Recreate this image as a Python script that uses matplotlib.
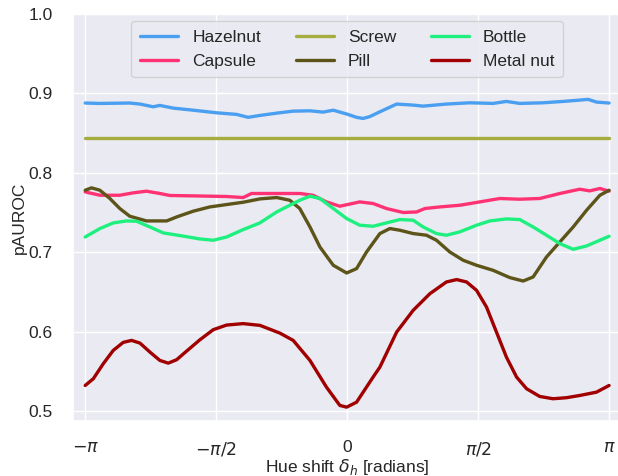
import numpy as np
import matplotlib
matplotlib.use('Agg')
import matplotlib.pyplot as plt
import seaborn as sns

# hue shift positions are stored in units of pi
hazelnut_x = [-1.0, -0.944, -0.830, -0.791, -0.741, -0.715, -0.664, -0.588, -0.498, -0.422,
              -0.378, -0.333, -0.269, -0.206, -0.142, -0.092, -0.053, 0.0, 0.036, 0.061,
              0.087, 0.125, 0.189, 0.252, 0.290, 0.379, 0.468, 0.557, 0.608, 0.659,
              0.748, 0.824, 0.888, 0.920, 0.952, 1.0]
hazelnut_y = [0.888, 0.8875, 0.888, 0.8867, 0.8833, 0.885, 0.8816, 0.879, 0.8757, 0.8737,
              0.870, 0.8724, 0.8753, 0.8778, 0.8782, 0.8766, 0.879, 0.874, 0.870, 0.8686,
              0.871, 0.877, 0.8867, 0.8854, 0.8841, 0.8867, 0.8883, 0.8875, 0.890, 0.8875,
              0.8883, 0.890, 0.8917, 0.8926, 0.8892, 0.888]

capsule_x = [-1.0, -0.944, -0.868, -0.817, -0.766, -0.715, -0.677, -0.588, -0.460, -0.397,
             -0.365, -0.269, -0.181, -0.130, -0.079, -0.028, 0.048, 0.099, 0.150, 0.214,
             0.265, 0.297, 0.354, 0.430, 0.506, 0.583, 0.659, 0.735, 0.812, 0.888,
             0.926, 0.965, 1.0]
capsule_y = [0.7762, 0.772, 0.772, 0.775, 0.7771, 0.7742, 0.7717, 0.7712, 0.7704, 0.7691,
             0.7742, 0.7742, 0.7742, 0.772, 0.7636, 0.7582, 0.7636, 0.7616, 0.7553, 0.7503,
             0.751, 0.7553, 0.7573, 0.7594, 0.7636, 0.7679, 0.767, 0.7679, 0.7742, 0.7796,
             0.7775, 0.7805, 0.7771]

screw_x = [-1.0, 1.0]
screw_y = [0.844, 0.844]

pill_x = [-1.0, -0.976, -0.944, -0.906, -0.868, -0.830, -0.766, -0.689, -0.651, -0.588,
          -0.524, -0.460, -0.397, -0.333, -0.269, -0.219, -0.181, -0.142, -0.104, -0.053,
          -0.002, 0.036, 0.074, 0.125, 0.163, 0.201, 0.252, 0.303, 0.341, 0.392,
          0.443, 0.494, 0.557, 0.621, 0.672, 0.710, 0.761, 0.812, 0.863, 0.914,
          0.965, 1.0]
pill_y = [0.7783, 0.7813, 0.7783, 0.7679, 0.7553, 0.7456, 0.7397, 0.7397, 0.7447, 0.7519,
          0.7573, 0.7603, 0.7632, 0.7674, 0.7691, 0.7657, 0.7553, 0.7321, 0.7069, 0.6839,
          0.6742, 0.6797, 0.7006, 0.7238, 0.7301, 0.728, 0.7238, 0.7217, 0.7154, 0.7006,
          0.6902, 0.6839, 0.6776, 0.6684, 0.6641, 0.6692, 0.6943, 0.7132, 0.7321, 0.7531,
          0.772, 0.7783]

bottle_x = [-1.0, -0.944, -0.893, -0.842, -0.804, -0.753, -0.702, -0.639, -0.562, -0.511,
            -0.460, -0.397, -0.333, -0.269, -0.206, -0.181, -0.142, -0.104, -0.053, -0.002,
            0.048, 0.099, 0.150, 0.201, 0.252, 0.290, 0.341, 0.379, 0.430, 0.494,
            0.545, 0.608, 0.659, 0.710, 0.761, 0.812, 0.863, 0.914, 0.965, 1.0]
bottle_y = [0.7195, 0.7301, 0.7372, 0.7397, 0.7393, 0.7321, 0.7246, 0.7213, 0.717, 0.7154,
            0.7195, 0.7288, 0.7372, 0.751, 0.7616, 0.7657, 0.7708, 0.7679, 0.7553, 0.7427,
            0.7343, 0.733, 0.7372, 0.7414, 0.7406, 0.7321, 0.7238, 0.7217, 0.7259, 0.7343,
            0.7397, 0.7422, 0.7414, 0.7321, 0.7217, 0.7112, 0.704, 0.7082, 0.7154, 0.7204]

metalnut_x = [-1.0, -0.969, -0.931, -0.893, -0.855, -0.823, -0.791, -0.753, -0.715, -0.683,
              -0.651, -0.613, -0.562, -0.511, -0.460, -0.397, -0.333, -0.257, -0.206, -0.142,
              -0.079, -0.028, -0.002, 0.036, 0.099, 0.125, 0.189, 0.252, 0.316, 0.379,
              0.418, 0.456, 0.494, 0.532, 0.570, 0.608, 0.647, 0.685, 0.735, 0.786,
              0.837, 0.888, 0.952, 1.0]
metalnut_y = [0.5327, 0.5412, 0.5601, 0.5768, 0.5869, 0.5894, 0.586, 0.5747, 0.5642, 0.5608,
              0.5651, 0.5759, 0.5902, 0.6029, 0.6087, 0.6105, 0.6083, 0.5986, 0.5894, 0.5642,
              0.5306, 0.5076, 0.5054, 0.5117, 0.5432, 0.5558, 0.5999, 0.6272, 0.6482, 0.6629,
              0.6659, 0.6629, 0.6524, 0.6314, 0.5999, 0.5684, 0.5432, 0.5286, 0.5189, 0.516,
              0.5173, 0.5201, 0.5243, 0.5327]

tick_pos = [-1.0, -0.5, 0.0, 0.5, 1.0]
tick_labels = [r'$-\pi$', r'$-\pi/2$', '0', r'$\pi/2$', r'$\pi$']

sns.set_theme(style='darkgrid')
plt.rcParams['font.family'] = ['Liberation Sans', 'DejaVu Sans']

fig = plt.figure(figsize=(6.18, 4.76), dpi=100)
ax = fig.add_axes([73.3 / 618, 55 / 476, (621 - 73.3) / 618, 407 / 476])

series = [
    ('Hazelnut', hazelnut_x, hazelnut_y, '#4a9ff0'),
    ('Capsule', capsule_x, capsule_y, '#ff3374'),
    ('Screw', screw_x, screw_y, '#a6ad3f'),
    ('Pill', pill_x, pill_y, '#5c5419'),
    ('Bottle', bottle_x, bottle_y, '#1ef07f'),
    ('Metal nut', metalnut_x, metalnut_y, '#a00000'),
]
for name, xs, ys, col in series:
    ax.plot(np.array(xs) * np.pi, ys, color=col, lw=2.4, label=name,
            solid_joinstyle='round', solid_capstyle='round')

ax.set_xticks(np.array(tick_pos) * np.pi)
ax.set_xticklabels(tick_labels)
ax.set_xlim(-np.pi - 0.143, np.pi + 0.143)
ax.set_ylim(0.488, 1.0)
ax.tick_params(axis='x', labelsize=12.5, pad=8)
ax.tick_params(axis='y', labelsize=12.5, pad=9)
ax.set_xlabel(r'Hue shift $\delta_h$ [radians]', fontsize=12.5, labelpad=-1)
ax.set_ylabel('pAUROC', fontsize=12.5, labelpad=1)

ax.legend(loc='upper center', ncol=3, fontsize=12.5, handlelength=2.2,
          columnspacing=2.0, borderpad=0.5, borderaxespad=0.4)

fig.savefig('out.png', dpi=100)
